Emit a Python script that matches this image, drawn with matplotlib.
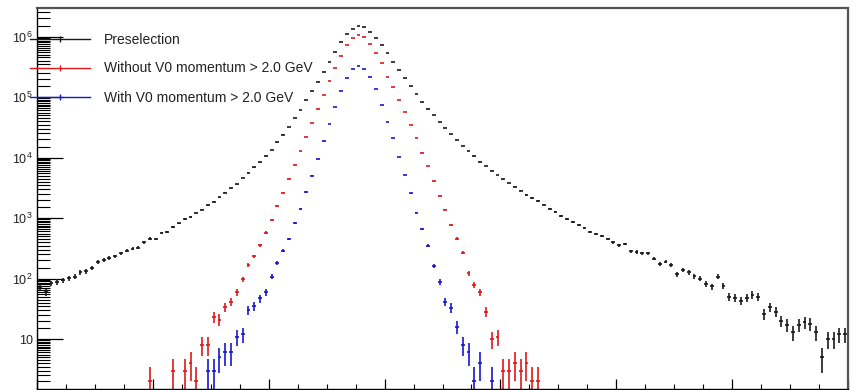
import numpy as np
import matplotlib.pyplot as plt
from matplotlib.lines import Line2D
from matplotlib.ticker import FixedLocator, LogLocator, MultipleLocator, NullFormatter

plt.rcParams['font.family'] = ['Liberation Sans', 'DejaVu Sans']
plt.rcParams['mathtext.fontset'] = 'custom'
plt.rcParams['mathtext.rm'] = 'Liberation Sans'
plt.rcParams['mathtext.it'] = 'Liberation Sans:italic'

# binning of the mass histograms
x_lo, x_hi, n_bins = 0.35, 0.70, 140

# entries per bin, preselected candidates (all 140 bins)
presel = [72, 60, 83, 89, 93, 102, 107, 126, 132, 148,
          186, 204, 219, 234, 263, 288, 309, 324, 398, 457,
          447, 562, 589, 708, 813, 955, 1047, 1230, 1380, 1622,
          1862, 2188, 2630, 3090, 3631, 4571, 5623, 6918, 8318, 10715,
          13183, 17783, 23988, 32359, 44668, 60256, 89125, 125893, 177828, 257040,
          380189, 549541, 812831, 1096478, 1318257, 1479108, 1445440, 1202264, 933254, 724436,
          537032, 380189, 281838, 204174, 151356, 112202, 83176, 64565, 50119, 38905,
          30903, 24547, 19498, 15488, 12882, 10471, 8511, 7244, 6026, 5129,
          4365, 3802, 3311, 2818, 2399, 2138, 1905, 1660, 1413, 1259,
          1072, 955, 871, 759, 692, 589, 550, 501, 447, 398,
          355, 372, 282, 275, 263, 263, 214, 174, 191, 166,
          117, 138, 126, 110, 100, 81, 74, 107, 76, 50,
          48, 43, 48, 54, 50, 26, 34, 28, 20, 17,
          13, 17, 19, 18, 13, 5, 10, 10, 12, 12]

# without the V0 momentum cut, starting at bin 19
without_first = 19
without_cut = [2, 0, 0, 0, 3, 0, 3, 4, 2, 8, 8,
               23, 21, 34, 41, 60, 98, 166, 234, 355, 575,
               933, 1585, 2630, 4467, 7586, 12589, 21878, 37154, 64565, 107152,
               186209, 301995, 478630, 724436, 954993, 1071519, 1000000, 758578, 537032, 363078,
               213796, 144544, 89125, 56234, 34674, 20893, 12023, 7244, 4074, 2344,
               1380, 759, 457, 269, 123, 78, 59, 28, 10, 11,
               3, 3, 4, 3, 4, 2, 2]

# with the V0 momentum cut, starting at bin 29
with_first = 29
with_cut = [3, 3, 5, 6, 6, 11, 12, 30, 35, 47, 59,
            107, 178, 288, 447, 832, 1413, 2692, 5012, 9550, 19055,
            35481, 69183, 125893, 208930, 295121, 331131, 288403, 213796, 134896, 74131,
            38905, 20893, 10233, 5129, 2570, 1230, 661, 347, 162, 89,
            41, 33, 16, 8, 6, 2, 4, 0, 2]

labels = ['Preselection',
          'Without V0 momentum > 2.0 GeV',
          'With V0 momentum > 2.0 GeV']
colors = ['#1a1a1a', '#e01818', '#1818d0']

edges = np.linspace(x_lo, x_hi, n_bins + 1)
centers = 0.5 * (edges[:-1] + edges[1:])
bw = edges[1] - edges[0]

fig = plt.figure(figsize=(8.62, 3.90), dpi=100)
ax = fig.add_axes([37 / 862, 1.3 / 390, 811 / 862, 380.7 / 390])


def draw(counts, first, color):
    n = np.asarray(counts, dtype=float)
    x = centers[first:first + len(n)]
    ok = n > 0
    ax.errorbar(x[ok], n[ok], xerr=0.33 * bw, yerr=np.sqrt(n[ok]),
                fmt='none', ecolor=color, elinewidth=1.2)


draw(presel, 0, colors[0])
draw(without_cut, without_first, colors[1])
draw(with_cut, with_first, colors[2])

ax.set_yscale('log')
ax.set_xlim(x_lo, x_hi)
ax.set_ylim(1.51, 2.96e6)

# ROOT-like axes: inward ticks on left/bottom only
ax.xaxis.set_major_locator(MultipleLocator(0.05))
ax.xaxis.set_minor_locator(MultipleLocator(0.0125))
ax.yaxis.set_major_locator(FixedLocator([10, 1e2, 1e3, 1e4, 1e5, 1e6]))
ax.set_yticklabels(['10', '$10^{2}$', '$10^{3}$', '$10^{4}$', '$10^{5}$', '$10^{6}$'])
ax.yaxis.set_minor_locator(LogLocator(base=10, subs=np.arange(1.5, 10, 0.5), numticks=1000))
ax.yaxis.set_minor_formatter(NullFormatter())
ax.tick_params(axis='y', which='major', direction='in', length=19, width=0.9,
               labelsize=9, pad=3, labelcolor='#222222')
ax.tick_params(axis='y', which='minor', direction='in', length=9.5, width=0.8)
ax.tick_params(axis='x', which='major', direction='in', length=7, width=0.9, labelbottom=False)
ax.tick_params(axis='x', which='minor', direction='in', length=3.5, width=0.8)

for side in ['left', 'bottom']:
    ax.spines[side].set_color('black')
    ax.spines[side].set_linewidth(1.0)
for side in ['top', 'right']:
    ax.spines[side].set_color('#555555')
    ax.spines[side].set_linewidth(1.6)

handles = [Line2D([], [], color=c, lw=1.0, marker='|', markersize=5, markeredgewidth=1.0)
           for c in colors]
fig.legend(handles, labels, loc='upper left', bbox_to_anchor=(30 / 862, 1 - 32.5 / 390),
           frameon=False, fontsize=10, handlelength=4.3, handletextpad=1.0,
           labelspacing=1.08, borderpad=0, borderaxespad=0, labelcolor='#222222')

fig.savefig('out.png', dpi=100)
